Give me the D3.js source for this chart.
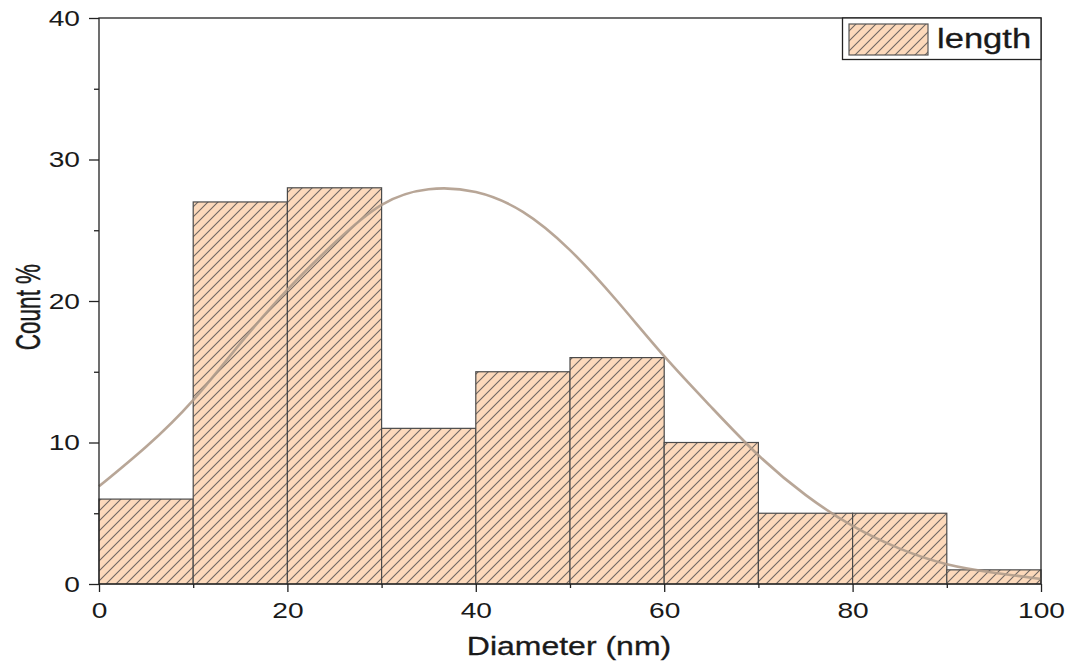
<!DOCTYPE html>
<html><head><meta charset="utf-8">
<script src="https://cdn.jsdelivr.net/npm/d3@7"></script>
<style>body{margin:0;background:#fff}svg{display:block}text{font-family:"Liberation Sans",Arial,sans-serif;fill:#1a1a1a}</style>
</head><body><svg id="c" width="1070" height="662"></svg>
<script>
const binStarts = [0,10,20,30,40,50,60,70,80,90];
const binWidth = 10;
const counts = [6,27,28,11,15,16,10,5,5,1];
const fitX = [0,5,10,15,20,25,30,35,40,45,50,55,60,65,70,75,80,85,90,95,100];
const fitY = [6.9,9.7,13.0,17.0,20.8,24.1,26.8,27.9,27.7,26.3,23.6,20.0,16.1,12.5,9.1,6.3,4.1,2.5,1.4,0.8,0.35];
const xTicks = [0,20,40,60,80,100];
const xMinor = [10,30,50,70,90];
const yTicks = [0,10,20,30,40];
const yMinor = [5,15,25,35];
const legendLabel = "length";

const SX = 1.28; // horizontal text stretch seen in the reference
const svg = d3.select("#c");
const L=99,R=1041,T=18,B=584;
const x = d3.scaleLinear().domain([0,100]).range([L,R]);
const y = d3.scaleLinear().domain([0,40]).range([B,T]);

const defs = svg.append("defs");
const pat = defs.append("pattern").attr("id","hatch").attr("patternUnits","userSpaceOnUse")
  .attr("width",10).attr("height",10);
pat.append("rect").attr("width",10).attr("height",10).attr("fill","#fcd9bb");
pat.append("path").attr("d","M-2.5,2.5 L2.5,-2.5 M0,10 L10,0 M7.5,12.5 L12.5,7.5")
  .attr("stroke","#6f6763").attr("stroke-width",1.1);

// bars
svg.append("g").selectAll("rect").data(binStarts).join("rect")
  .attr("x",d=>x(d)).attr("width",d=>x(d+binWidth)-x(d))
  .attr("y",(d,i)=>y(counts[i])).attr("height",(d,i)=>y(0)-y(counts[i]))
  .attr("fill","url(#hatch)").attr("stroke","#4a4a4a").attr("stroke-width",1.2);

// fit curve
const line = d3.line().x(d=>x(d[0])).y(d=>y(d[1])).curve(d3.curveNatural);
svg.append("path").datum(fitX.map((v,i)=>[v,fitY[i]])).attr("d",line)
  .attr("fill","none").attr("stroke","#b09c8c").attr("stroke-width",2.6).attr("opacity",0.9);

// frame
svg.append("rect").attr("x",L).attr("y",T).attr("width",R-L).attr("height",B-T)
  .attr("fill","none").attr("stroke","#222").attr("stroke-width",1.3);

function stretch(sel, ax, ay){
  sel.attr("transform",`translate(${ax},${ay}) scale(${SX},1) translate(${-ax},${-ay})`);
}

// axes
const xAxis = d3.axisBottom(x).tickValues(xTicks).tickSize(8).tickPadding(10);
const gx = svg.append("g").attr("transform",`translate(0,${B})`).call(xAxis);
gx.select(".domain").remove();
gx.selectAll("text").attr("font-size",22).style("font-family","Liberation Sans, Arial, sans-serif").attr("fill","#1a1a1a")
  .each(function(){ stretch(d3.select(this),0,0); });
gx.selectAll("line").attr("stroke","#222").attr("stroke-width",1.3);
svg.append("g").attr("transform",`translate(0,${B})`).call(d3.axisBottom(x).tickValues(xMinor).tickSize(4).tickFormat(""))
  .call(g=>{g.select(".domain").remove();g.selectAll("line").attr("stroke","#222").attr("stroke-width",1.3);});

const yAxis = d3.axisLeft(y).tickValues(yTicks).tickSize(10).tickPadding(9);
const gy = svg.append("g").attr("transform",`translate(${L},0)`).call(yAxis);
gy.select(".domain").remove();
gy.selectAll("text").attr("font-size",22).style("font-family","Liberation Sans, Arial, sans-serif").attr("fill","#1a1a1a")
  .each(function(){ stretch(d3.select(this),-19,0); });
gy.selectAll("line").attr("stroke","#222").attr("stroke-width",1.3);
svg.append("g").attr("transform",`translate(${L},0)`).call(d3.axisLeft(y).tickValues(yMinor).tickSize(5).tickFormat(""))
  .call(g=>{g.select(".domain").remove();g.selectAll("line").attr("stroke","#222").attr("stroke-width",1.3);});

// titles
svg.append("text").attr("x",569).attr("y",655).attr("text-anchor","middle").attr("font-size",25)
  .attr("stroke","#1a1a1a").attr("stroke-width",0.3)
  .text("Diameter (nm)").call(s=>stretch(s,569,655));
svg.append("g").attr("transform",`translate(40,307) scale(1.55,1) rotate(-90)`)
  .append("text").attr("text-anchor","middle").attr("font-size",22.5)
  .attr("stroke","#1a1a1a").attr("stroke-width",0.3).text("Count %");

// legend
const lg = svg.append("g");
lg.append("rect").attr("x",842.5).attr("y",T).attr("width",R-842.5).attr("height",41.5)
  .attr("fill","#fff").attr("stroke","#222").attr("stroke-width",1.3);
lg.append("rect").attr("x",849).attr("y",24).attr("width",79).attr("height",31)
  .attr("fill","url(#hatch)").attr("stroke","#555").attr("stroke-width",1.2);
lg.append("text").attr("x",937).attr("y",48).attr("font-size",27).attr("stroke","#1a1a1a").attr("stroke-width",0.3)
  .text(legendLabel).call(s=>stretch(s,937,48));
</script></body></html>
